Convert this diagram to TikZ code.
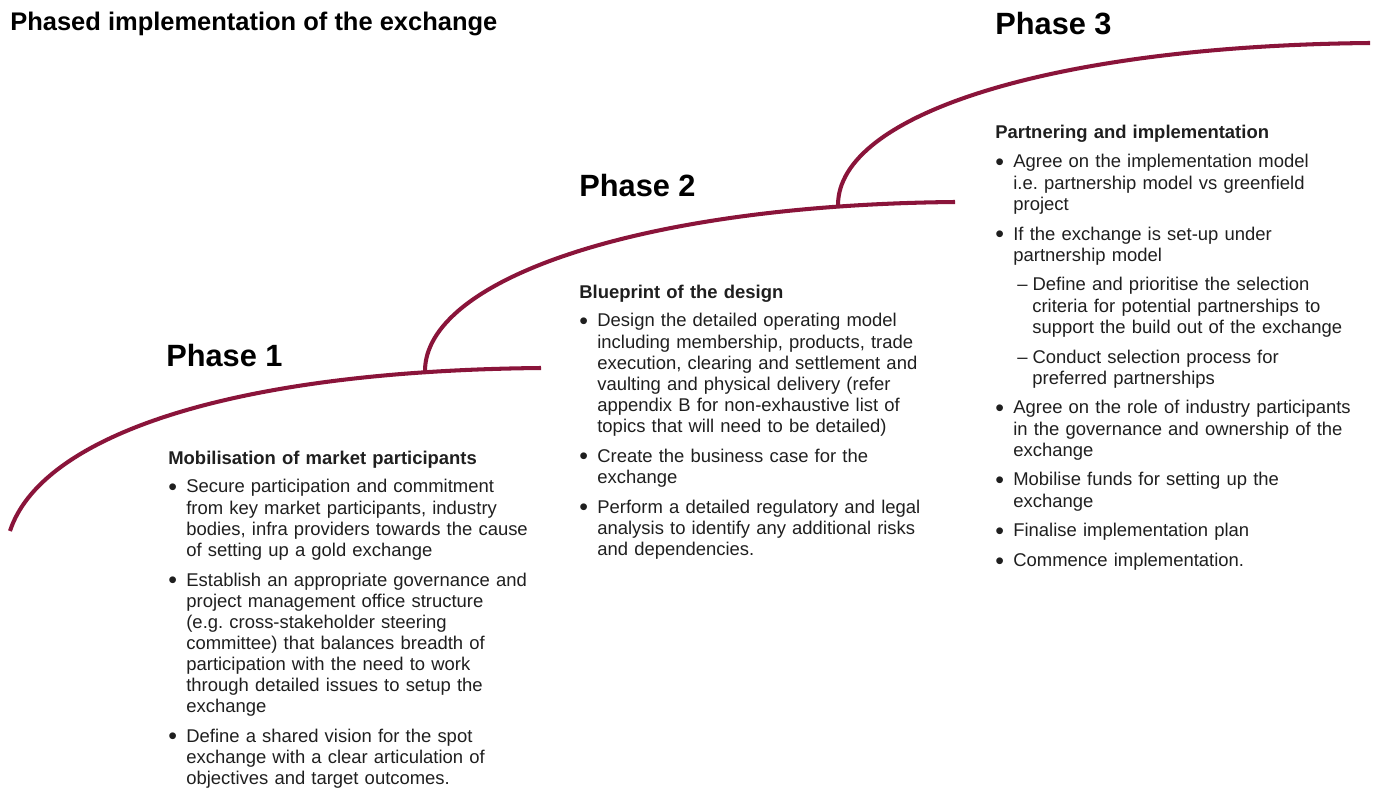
\documentclass[tikz,border=0pt]{standalone}
\usepackage{fontspec}
\setmainfont{Liberation Sans}
\usepackage{enumitem}
\frenchspacing
\definecolor{phasered}{RGB}{138,20,58}
\newcommand{\dotmark}{\raisebox{-1.3pt}{\scalebox{1.35}{\textbullet}}}
\setlist[itemize,1]{label=\dotmark,leftmargin=0.36cm,labelindent=0pt,
  labelwidth=0.2cm,labelsep=0.16cm,align=left,topsep=4.5pt,itemsep=5pt,
  parsep=0pt,partopsep=0pt}
\setlist[itemize,2]{label=--,leftmargin=0.38cm,labelindent=0.08cm,
  labelwidth=0.2cm,labelsep=0.1cm,align=left,topsep=5pt,itemsep=5pt,
  parsep=0pt,partopsep=0pt}

\begin{document}
\begin{tikzpicture}[x=0.02cm,y=-0.02cm,
    curve/.style={draw=phasered,line width=2.3pt},
    title/.style={anchor=base west,inner sep=0pt,font=\fontsize{14.5}{17}\bfseries},
    phase/.style={anchor=base west,inner sep=0pt,font=\fontsize{17.5}{20}\bfseries},
    stage/.style={anchor=base west,inner sep=0pt,text width=7.5cm,align=left,
      font=\fontsize{10.5}{12}\selectfont,text=black!88}]

  \useasboundingbox (0,0) rectangle (1375,790);

  \coordinate (s1) at (10,531);
  \coordinate (e1) at (541,368);
  \coordinate (s2) at (425,371);
  \coordinate (e2) at (955,202);
  \coordinate (s3) at (838,205);
  \coordinate (e3) at (1370,43);

  \draw[curve] (s1) .. controls +(30,-92) and +(-320,3) .. (e1);
  \draw[curve] (s2) .. controls +(0,-90) and +(-320,3) .. (e2);
  \draw[curve] (s3) .. controls +(0,-90) and +(-320,3) .. (e3);

  \node[title] (head) at (10,31) {Phased implementation of the exchange};
  \node[phase] (p1) at (166,366) {Phase 1};
  \node[phase] (p2) at (579,197) {Phase 2};
  \node[phase] (p3) at (995,35) {Phase 3};

  \node[stage] (b1) at (168,464) {\textbf{Mobilisation of market participants}
    \begin{itemize}
      \item Secure participation and commitment\newline from key market participants, industry\newline bodies, infra providers towards the cause\newline of setting up a gold exchange
      \item Establish an appropriate governance and\newline project management office structure\newline (e.g. cross-stakeholder steering\newline committee) that balances breadth of\newline participation with the need to work\newline through detailed issues to setup the\newline exchange
      \item Define a shared vision for the spot\newline exchange with a clear articulation of\newline objectives and target outcomes.
    \end{itemize}};

  \node[stage] (b2) at (579,298) {\textbf{Blueprint of the design}
    \begin{itemize}
      \item Design the detailed operating model\newline including membership, products, trade\newline execution, clearing and settlement and\newline vaulting and physical delivery (refer\newline appendix B for non-exhaustive list of\newline topics that will need to be detailed)
      \item Create the business case for the\newline exchange
      \item Perform a detailed regulatory and legal\newline analysis to identify any additional risks\newline and dependencies.
    \end{itemize}};

  \node[stage] (b3) at (995,139) {\textbf{Partnering and implementation}
    \begin{itemize}
      \item Agree on the implementation model\newline i.e. partnership model vs greenfield\newline project
      \item If the exchange is set-up under\newline partnership model
      \begin{itemize}
        \item Define and prioritise the selection\newline criteria for potential partnerships to\newline support the build out of the exchange
        \item Conduct selection process for\newline preferred partnerships
      \end{itemize}
      \item Agree on the role of industry participants\newline in the governance and ownership of the\newline exchange
      \item Mobilise funds for setting up the\newline exchange
      \item Finalise implementation plan
      \item Commence implementation.
    \end{itemize}};

\end{tikzpicture}
\end{document}
